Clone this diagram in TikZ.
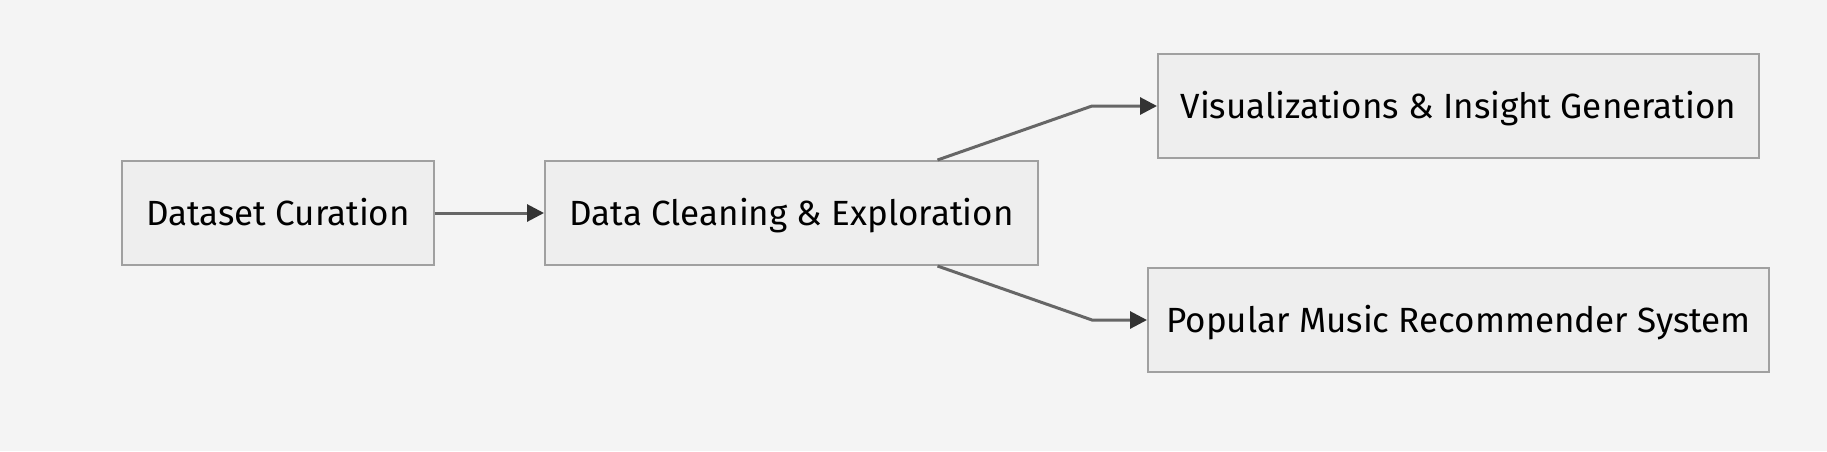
\documentclass[tikz,border=0pt]{standalone}
\usepackage{fontspec}
\setmainfont{Fira Sans}
\usetikzlibrary{arrows.meta}
\definecolor{bg}{HTML}{F4F4F4}
\definecolor{boxfill}{HTML}{EEEEEE}
\definecolor{boxline}{HTML}{A0A0A0}
\definecolor{edge}{HTML}{666666}
\definecolor{tip}{HTML}{333333}
\begin{document}
\begin{tikzpicture}[x=1pt,y=-1pt,
  stepbox/.style={draw=boxline,fill=boxfill,line width=2pt,inner sep=0pt,minimum height=104pt,
    text height=24pt,text depth=0pt,
    font=\fontsize{35}{40}\selectfont,text=black},
  flow/.style={draw=edge,line width=3pt,-{Triangle[length=17pt,width=17pt,color=tip]}}]
\fill[bg] (0,0) rectangle (1827,451);
\useasboundingbox (0,0) rectangle (1827,451);
\node[stepbox,minimum width=312pt] (A) at (278,213) {Dataset Curation};
\node[stepbox,minimum width=493pt] (B) at (791.5,213) {Data Cleaning \& Exploration};
\node[stepbox,minimum width=601pt] (C) at (1458.5,106) {Visualizations \& Insight Generation};
\node[stepbox,minimum width=621pt] (D) at (1458.5,320) {Popular Music Recommender System};
\draw[flow] (A.east) -- (B.west);
\draw[flow] ([xshift=146pt]B.north) -- ([xshift=-65pt]C.west) -- (C.west);
\draw[flow] ([xshift=146pt]B.south) -- ([xshift=-55pt]D.west) -- (D.west);
\end{tikzpicture}
\end{document}
